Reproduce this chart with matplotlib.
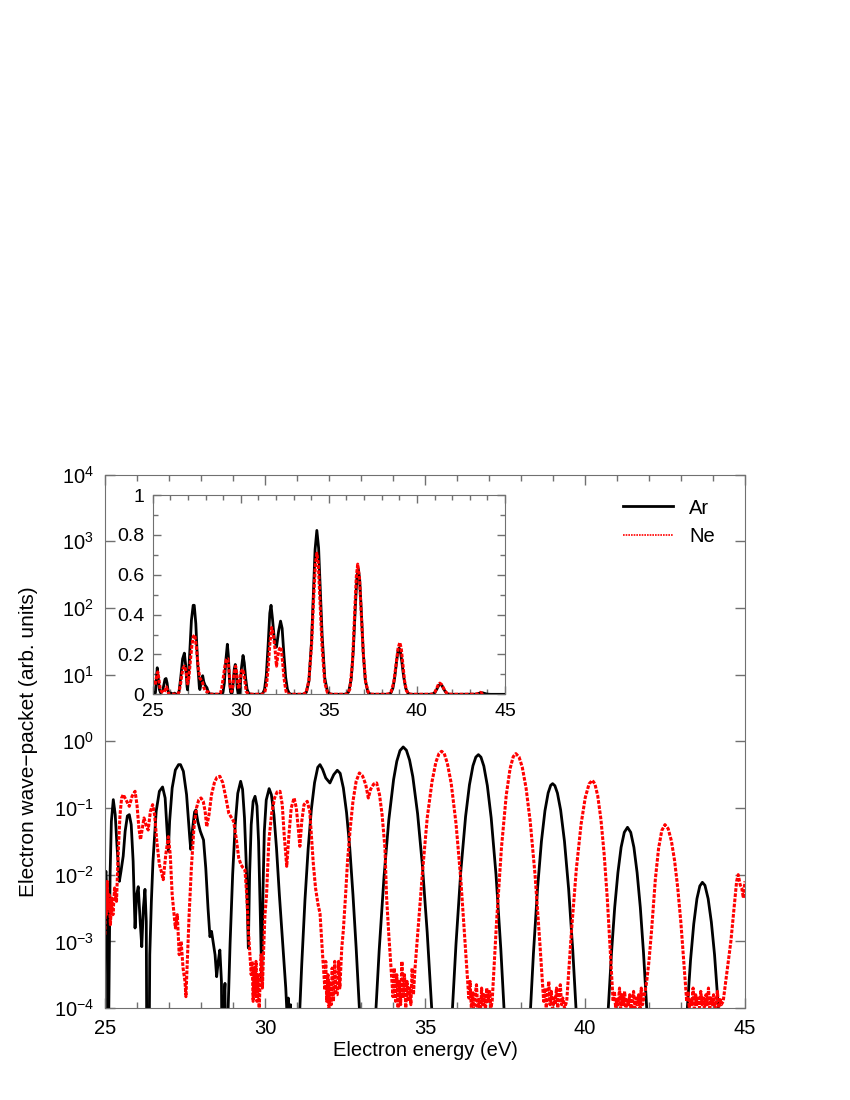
import matplotlib
matplotlib.use('Agg')
import matplotlib.pyplot as plt
from matplotlib.lines import Line2D
from matplotlib.ticker import MultipleLocator, FixedLocator, FuncFormatter, LogLocator, NullLocator
import numpy as np

plt.rcParams['font.family'] = ['Liberation Sans', 'DejaVu Sans']
plt.rcParams['mathtext.fontset'] = 'custom'
plt.rcParams['mathtext.rm'] = 'Liberation Sans'
plt.rcParams['mathtext.it'] = 'Liberation Sans:italic'

# (energy in eV, log10 of amplitude); -6 means below the axis floor
ar_pts = [
    (25.00, -2.05), (25.03, -1.95), (25.06, -2.3), (25.08, -3.5), (25.09, -6), (25.11, -6),
    (25.12, -4), (25.16, -2.0), (25.20, -1.2), (25.26, -0.875), (25.32, -1.1), (25.38, -1.6),
    (25.45, -2.1), (25.50, -1.95), (25.57, -1.72), (25.63, -1.35), (25.70, -1.12), (25.76, -1.1),
    (25.82, -1.25), (25.88, -1.8), (25.94, -2.8), (25.99, -2.3), (26.04, -2.18), (26.10, -2.7),
    (26.15, -3.08), (26.20, -2.5), (26.25, -2.22), (26.29, -2.7), (26.32, -6), (26.36, -6),
    (26.40, -3.2), (26.45, -2.4), (26.50, -1.8), (26.60, -1.05), (26.70, -0.75), (26.80, -0.685),
    (26.88, -0.85), (26.95, -1.4), (26.98, -1.65), (27.02, -1.2), (27.10, -0.7), (27.20, -0.43),
    (27.30, -0.35), (27.36, -0.35), (27.45, -0.45), (27.55, -0.8), (27.65, -1.45), (27.68, -1.62),
    (27.74, -1.3), (27.80, -1.06), (27.84, -1.03), (27.90, -1.2), (27.98, -1.35), (28.08, -1.48),
    (28.15, -1.9), (28.22, -2.5), (28.28, -2.93), (28.33, -2.85), (28.385, -3.03), (28.44, -3.2),
    (28.49, -3.53), (28.54, -3.3), (28.59, -3.13), (28.64, -3.6), (28.68, -6), (28.72, -3.9),
    (28.75, -3.63), (28.78, -6), (28.83, -6), (28.85, -4), (28.91, -3.03), (28.99, -2.0),
    (29.07, -1.25), (29.15, -0.78), (29.24, -0.6), (29.30, -0.72), (29.36, -1.15), (29.42, -1.9),
    (29.48, -3.1), (29.52, -2.0), (29.57, -1.25), (29.63, -0.9), (29.69, -0.825), (29.75, -0.97),
    (29.80, -1.5), (29.85, -2.5), (29.90, -3.6), (29.94, -2.2), (29.98, -1.35), (30.04, -0.88),
    (30.13, -0.71), (30.20, -0.8), (30.28, -1.1), (30.36, -1.6), (30.45, -2.3), (30.55, -3.0),
    (30.65, -3.7), (30.70, -4.2), (30.73, -3.85), (30.76, -4.3), (30.80, -3.95), (30.83, -6),
    (31.07, -6), (31.09, -4), (31.15, -3.34), (31.25, -2.38), (31.35, -1.61), (31.45, -1.02),
    (31.55, -0.62), (31.65, -0.39), (31.72, -0.35), (31.80, -0.42), (31.90, -0.55), (32.03, -0.625),
    (32.15, -0.5), (32.26, -0.435), (32.35, -0.48), (32.45, -0.7), (32.55, -1.07), (32.65, -1.6),
    (32.75, -2.3), (32.85, -3.1), (32.95, -4.0), (32.97, -6), (33.45, -6), (33.47, -4),
    (33.57, -3.13), (33.72, -2.035), (33.87, -1.18), (34.02, -0.573), (34.12, -0.30), (34.22, -0.139),
    (34.32, -0.085), (34.42, -0.134), (34.52, -0.283), (34.62, -0.53), (34.77, -1.086), (34.92, -1.86),
    (35.07, -2.865), (35.21, -4), (35.23, -6), (35.84, -6), (35.86, -4), (35.97, -3.04),
    (36.12, -1.95), (36.27, -1.127), (36.39, -0.654), (36.50, -0.367), (36.59, -0.237), (36.67, -0.2),
    (36.75, -0.238), (36.84, -0.372), (36.95, -0.666), (37.07, -1.15), (37.22, -1.996), (37.37, -3.11),
    (37.47, -4), (37.49, -6), (38.28, -6), (38.30, -4), (38.39, -3.18), (38.52, -2.196),
    (38.64, -1.5), (38.75, -1.042), (38.85, -0.774), (38.93, -0.66), (38.99, -0.635), (39.06, -0.666),
    (39.14, -0.777), (39.24, -1.03), (39.36, -1.5), (39.49, -2.215), (39.62, -3.14), (39.72, -4),
    (39.74, -6), (40.71, -6), (40.73, -4), (40.83, -3.17), (40.93, -2.49), (41.03, -1.97),
    (41.13, -1.59), (41.23, -1.365), (41.33, -1.29), (41.43, -1.365), (41.53, -1.59), (41.63, -1.97),
    (41.73, -2.49), (41.83, -3.17), (41.93, -4), (41.95, -6), (43.18, -6), (43.20, -4),
    (43.30, -3.28), (43.40, -2.74), (43.50, -2.36), (43.59, -2.17), (43.67, -2.115), (43.75, -2.16),
    (43.85, -2.36), (43.95, -2.71), (44.05, -3.2), (44.17, -4), (44.19, -6), (45.00, -6),
]

ne_pts = [
    (25.00, -2.9), (25.02, -2.2), (25.04, -2.6), (25.07, -2.1), (25.10, -2.5), (25.13, -2.3),
    (25.17, -2.75), (25.21, -2.35), (25.25, -2.6), (25.30, -2.2), (25.36, -2.4), (25.42, -1.6),
    (25.47, -1.1), (25.52, -0.85), (25.57, -0.8), (25.66, -0.88), (25.76, -0.975), (25.85, -0.82),
    (25.94, -0.75), (26.00, -0.95), (26.06, -1.3), (26.11, -1.475), (26.22, -1.15), (26.28, -1.25),
    (26.35, -1.33), (26.42, -1.05), (26.49, -0.95), (26.55, -1.1), (26.62, -1.5), (26.70, -1.85),
    (26.76, -1.95), (26.82, -2.075), (26.90, -1.7), (26.98, -1.43), (27.04, -1.7), (27.10, -2.3),
    (27.15, -2.55), (27.20, -2.8), (27.26, -2.6), (27.32, -3.2), (27.38, -3.0), (27.44, -3.4),
    (27.50, -3.6), (27.53, -3.83), (27.58, -3.2), (27.63, -2.6), (27.70, -1.9), (27.78, -1.3),
    (27.86, -1.0), (27.93, -0.88), (28.00, -0.85), (28.07, -0.9), (28.13, -1.05), (28.18, -1.28),
    (28.25, -1.1), (28.33, -0.8), (28.42, -0.62), (28.50, -0.54), (28.59, -0.525), (28.68, -0.62),
    (28.78, -0.85), (28.87, -1.08), (28.96, -1.15), (29.02, -1.2), (29.10, -1.45), (29.18, -1.75),
    (29.25, -1.85), (29.32, -1.9), (29.375, -1.93), (29.43, -2.3), (29.48, -2.83), (29.53, -3.2),
    (29.57, -3.5), (29.60, -3.3), (29.63, -3.9), (29.66, -3.4), (29.69, -3.8), (29.72, -3.3),
    (29.75, -3.9), (29.78, -3.5), (29.82, -4.0), (29.85, -3.6), (29.88, -3.2), (29.92, -3.7),
    (29.96, -3.1), (30.00, -2.6), (30.05, -2.3), (30.12, -1.5), (30.21, -1.08), (30.30, -0.85),
    (30.38, -0.76), (30.47, -0.75), (30.54, -0.95), (30.60, -1.4), (30.68, -1.875), (30.75, -1.4),
    (30.82, -1.0), (30.91, -0.85), (30.98, -1.0), (31.04, -1.3), (31.09, -1.575), (31.15, -1.2),
    (31.22, -0.95), (31.32, -0.9), (31.40, -1.05), (31.51, -1.83), (31.58, -2.2), (31.66, -2.45),
    (31.72, -2.58), (31.80, -3.2), (31.875, -3.73), (31.90, -3.3), (31.93, -3.9), (31.97, -3.5),
    (32.00, -4.0), (32.03, -3.6), (32.07, -3.95), (32.10, -3.4), (32.14, -3.9), (32.18, -3.3),
    (32.22, -3.8), (32.26, -3.8), (32.30, -3.3), (32.34, -3.7), (32.40, -3.1), (32.45, -2.83),
    (32.52, -2.3), (32.58, -1.8), (32.66, -1.33), (32.75, -0.9), (32.85, -0.6), (32.95, -0.475),
    (33.05, -0.52), (33.15, -0.65), (33.23, -0.85), (33.30, -0.72), (33.40, -0.64), (33.49, -0.625),
    (33.58, -0.8), (33.66, -1.1), (33.75, -1.6), (33.80, -2.33), (33.87, -2.9), (33.94, -3.4),
    (34.00, -3.83), (34.04, -3.4), (34.08, -3.9), (34.12, -3.5), (34.16, -4.0), (34.20, -3.6),
    (34.24, -3.95), (34.28, -3.3), (34.32, -3.85), (34.36, -3.5), (34.40, -4.0), (34.44, -3.6),
    (34.48, -3.9), (34.52, -3.7), (34.56, -3.95), (34.60, -3.4), (34.64, -3.8), (34.69, -3.4),
    (34.77, -2.9), (34.92, -1.98), (35.07, -1.15), (35.22, -0.608), (35.34, -0.315), (35.44, -0.183),
    (35.52, -0.15), (35.60, -0.18), (35.70, -0.33), (35.82, -0.63), (35.97, -1.23), (36.12, -2.07),
    (36.27, -3.15), (36.37, -3.85), (36.41, -3.6), (36.45, -4.0), (36.49, -3.75), (36.53, -4.1),
    (36.57, -3.8), (36.61, -3.65), (36.65, -4.0), (36.69, -3.85), (36.73, -4.1), (36.77, -3.7),
    (36.81, -3.95), (36.85, -3.8), (36.89, -4.05), (36.93, -3.7), (36.97, -3.9), (37.02, -3.75),
    (37.06, -4.0), (37.10, -3.9), (37.24, -2.69), (37.39, -1.6), (37.54, -0.81), (37.66, -0.41),
    (37.76, -0.23), (37.84, -0.185), (37.94, -0.235), (38.04, -0.386), (38.16, -0.701), (38.29, -1.206),
    (38.44, -1.999), (38.59, -3.02), (38.71, -3.9), (38.75, -3.7), (38.79, -4.0), (38.83, -3.8),
    (38.87, -3.6), (38.91, -3.95), (38.95, -3.75), (38.99, -4.05), (39.03, -3.85), (39.07, -3.95),
    (39.11, -3.7), (39.15, -4.0), (39.19, -3.8), (39.23, -3.65), (39.27, -3.95), (39.31, -3.85),
    (39.36, -4.0), (39.43, -3.9), (39.58, -2.84), (39.73, -1.92), (39.88, -1.24), (40.01, -0.843),
    (40.13, -0.638), (40.23, -0.585), (40.31, -0.637), (40.40, -0.819), (40.50, -1.174), (40.60, -1.692),
    (40.70, -2.37), (40.80, -3.21), (40.88, -3.9), (40.92, -3.75), (40.96, -4.0), (41.00, -3.85),
    (41.04, -3.95), (41.08, -3.7), (41.12, -4.05), (41.16, -3.8), (41.20, -3.95), (41.24, -3.75),
    (41.28, -4.0), (41.32, -3.85), (41.36, -3.95), (41.40, -3.8), (41.44, -4.05), (41.48, -3.9),
    (41.52, -3.75), (41.56, -4.0), (41.60, -3.85), (41.64, -3.95), (41.68, -3.8), (41.72, -4.0),
    (41.76, -3.7), (41.80, -3.95), (41.84, -3.85), (41.88, -3.75), (41.93, -3.6), (42.00, -3.3),
    (42.08, -2.85), (42.20, -2.07), (42.30, -1.61), (42.40, -1.34), (42.50, -1.25), (42.60, -1.31),
    (42.70, -1.49), (42.80, -1.785), (42.90, -2.2), (43.00, -2.73), (43.10, -3.39), (43.18, -3.9),
    (43.22, -3.75), (43.26, -4.0), (43.30, -3.85), (43.34, -3.95), (43.38, -3.7), (43.42, -4.05),
    (43.46, -3.8), (43.50, -3.95), (43.54, -3.85), (43.58, -4.0), (43.62, -3.75), (43.66, -3.95),
    (43.70, -3.85), (43.74, -4.05), (43.78, -3.8), (43.82, -3.95), (43.86, -3.7), (43.90, -4.0),
    (43.94, -3.85), (43.98, -3.95), (44.02, -3.8), (44.06, -4.05), (44.10, -3.9), (44.14, -3.75),
    (44.18, -4.0), (44.22, -3.85), (44.26, -3.95), (44.32, -3.9), (44.40, -3.6), (44.48, -3.3),
    (44.56, -3.0), (44.64, -2.6), (44.70, -2.3), (44.74, -2.1), (44.79, -2.0), (44.85, -2.15),
    (44.90, -2.2), (44.95, -2.35), (45.00, -2.1),
]

# inset shows Ne shifted down in energy so its peaks line up with Ar
ne_inset_shift = 1.2

ar_e = np.array([p[0] for p in ar_pts])
ar_amp = 10.0 ** np.array([p[1] for p in ar_pts])
ne_e = np.array([p[0] for p in ne_pts])
ne_amp = 10.0 ** np.array([p[1] for p in ne_pts])

x_ticks = [25, 30, 35, 40, 45]
inset_y_ticks = [0, 0.2, 0.4, 0.6, 0.8, 1]

spine_col = '#707070'
red_dash = (0, (1.2, 0.5))

fig = plt.figure(figsize=(8.5, 11), dpi=100)

ax = fig.add_axes([0.1235, 0.0836, 0.7529, 0.485])
ax.plot(ar_e, ar_amp, '-', c='black', lw=2.0)
ax.plot(ne_e, ne_amp, c='#ff0000', lw=2.2, ls=red_dash)
ax.set_yscale('log')
ax.set_xlim(25, 45)
ax.set_ylim(1e-4, 1e4)
ax.xaxis.set_major_locator(FixedLocator(x_ticks))
ax.xaxis.set_minor_locator(MultipleLocator(1))
ax.yaxis.set_major_locator(LogLocator(base=10, numticks=20))
ax.yaxis.set_minor_locator(NullLocator())
ax.tick_params(which='both', direction='in', top=True, right=True, labelsize=14.5, color=spine_col)
ax.tick_params(which='major', length=7, width=1)
ax.tick_params(which='minor', length=4, width=1)
ax.tick_params(axis='x', pad=8)
ax.tick_params(axis='y', pad=8)
for s in ax.spines.values():
    s.set_color(spine_col)
ax.set_xlabel('Electron energy (eV)', fontsize=14.5, labelpad=2)
ax.set_ylabel('Electron wave\u2212packet (arb. units)', fontsize=15, labelpad=11)

handles = [Line2D([], [], c='black', lw=2.0),
           Line2D([], [], c='#ff0000', lw=1.2, ls=(0, (1, 0.6)))]
ax.legend(handles, ['Ar', 'Ne'], loc='upper left', bbox_to_anchor=(0.809, 0.955),
          frameon=False, fontsize=14.5, borderaxespad=0, borderpad=0,
          handlelength=2.5, handletextpad=0.8, labelspacing=0.45)

ins = fig.add_axes([0.1796, 0.3688, 0.4145, 0.1812])
ins.plot(ar_e, ar_amp, '-', c='black', lw=2.0)
ins.plot(ne_e - ne_inset_shift, ne_amp, c='#ff0000', lw=2.2, ls=red_dash)
ins.set_xlim(25, 45)
ins.set_ylim(0, 1)
ins.xaxis.set_major_locator(FixedLocator(x_ticks))
ins.xaxis.set_minor_locator(MultipleLocator(1))
ins.yaxis.set_major_locator(FixedLocator(inset_y_ticks))
ins.yaxis.set_minor_locator(MultipleLocator(0.1))
ins.yaxis.set_major_formatter(FuncFormatter(lambda v, p: '%g' % v))
ins.tick_params(which='both', direction='in', top=True, right=True, labelsize=14, color=spine_col)
ins.tick_params(which='major', length=6, width=1)
ins.tick_params(which='minor', length=3.5, width=1)
ins.tick_params(axis='x', pad=6)
ins.tick_params(axis='y', pad=6)
for s in ins.spines.values():
    s.set_color(spine_col)

plt.savefig('out.png', dpi=100)
